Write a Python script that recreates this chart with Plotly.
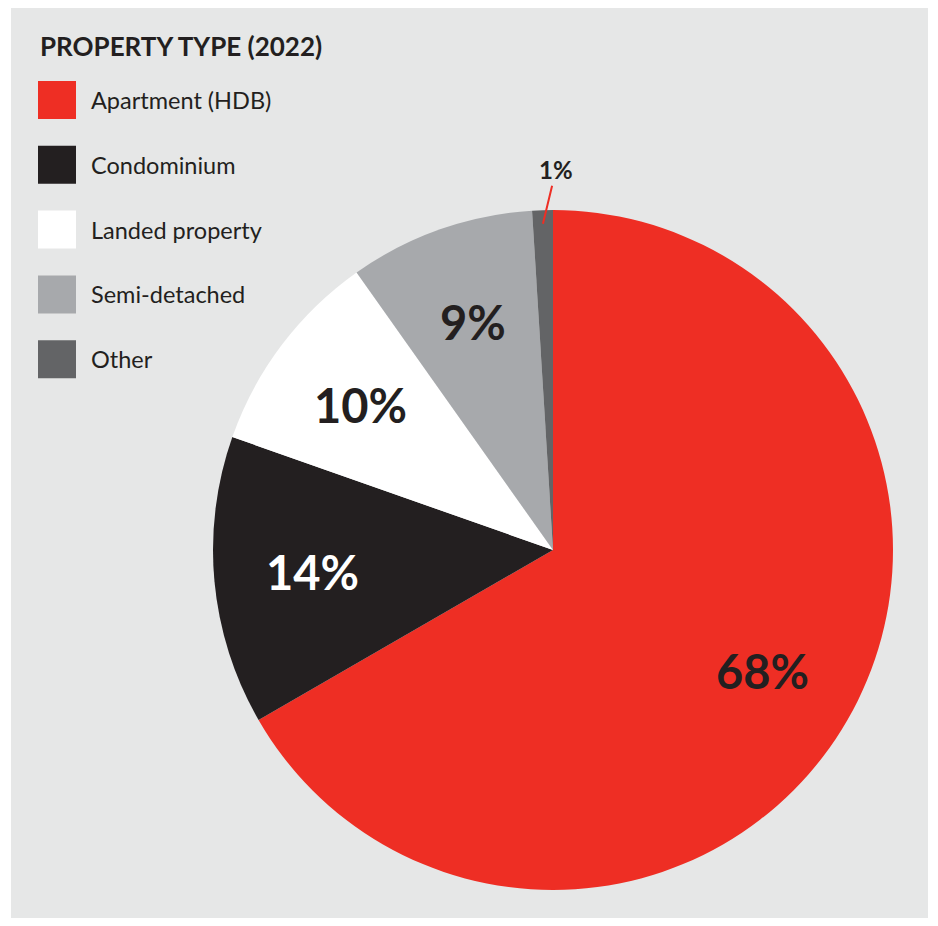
import math
import plotly.graph_objects as go

# data
categories = ["Apartment (HDB)", "Condominium", "Landed property", "Semi-detached", "Other"]
shares = [68, 14, 10, 9, 1]
slice_colors = ["#ee2e24", "#231f20", "#ffffff", "#a7a9ac", "#636466"]
label_colors = ["#231f20", "#ffffff", "#231f20", "#231f20", "#231f20"]
chart_title = "PROPERTY TYPE (2022)"

# page body has an 8px margin, so the figure is a bit smaller than the window
OFF = 8
W, H = 938 - OFF, 926 - OFF
FONT = "Lato, 'Open Sans', sans-serif"
INK = "#231f20"

# pie placement in window pixels (center / radius)
cx, cy, R = 553, 550, 340


def px_x(x):
    return (x - OFF) / W


def px_y(y):
    return 1 - (y - OFF) / H


fig = go.Figure()

fig.add_trace(go.Pie(
    labels=categories, values=shares, sort=False,
    direction="clockwise", rotation=0,
    marker=dict(colors=slice_colors, line=dict(width=0)),
    textinfo="none",
    domain=dict(x=[px_x(cx - R), px_x(cx + R)], y=[px_y(cy + R), px_y(cy - R)]),
    showlegend=False, hoverinfo="label+percent",
))

shapes = [dict(type="rect", xref="paper", yref="paper",
               x0=px_x(11), x1=px_x(928), y0=px_y(918), y1=px_y(7),
               fillcolor="#e6e7e7", line=dict(width=0), layer="below")]
annotations = [dict(text="<b>" + chart_title + "</b>", xref="paper", yref="paper",
                    x=px_x(38), y=px_y(46), xanchor="left", yanchor="middle",
                    showarrow=False, font=dict(size=26, color=INK, family=FONT, weight=900))]

# legend built from shapes + text
for i, (name, col) in enumerate(zip(categories, slice_colors)):
    top = 81 + 64.8 * i
    shapes.append(dict(type="rect", xref="paper", yref="paper",
                       x0=px_x(38), x1=px_x(76), y0=px_y(top + 38), y1=px_y(top),
                       fillcolor=col, line=dict(width=0)))
    annotations.append(dict(text=name, xref="paper", yref="paper",
                            x=px_x(89), y=px_y(top + 19), xanchor="left", yanchor="middle",
                            showarrow=False, font=dict(size=23.5, color=INK, family=FONT)))

# percentage labels placed at each slice's middle angle
total = sum(shares)
cum = 0
for i, v in enumerate(shares):
    mid = (cum + v / 2) / total * 2 * math.pi
    cum += v
    if i < len(shares) - 1:
        rr = 0.71 * R
        annotations.append(dict(text="<b>%d%%</b>" % v, xref="paper", yref="paper",
                                x=px_x(cx + rr * math.sin(mid)), y=px_y(cy - rr * math.cos(mid)),
                                xanchor="center", yanchor="middle", showarrow=False,
                                font=dict(size=47, color=label_colors[i], family=FONT, weight=900)))
    else:
        # small slice: label outside with a leader line
        rr = 0.96 * R
        annotations.append(dict(text="<b>%d%%</b>" % v, xref="paper", yref="paper",
                                x=px_x(cx + rr * math.sin(mid)), y=px_y(cy - rr * math.cos(mid)),
                                ax=13, ay=-54,
                                showarrow=True, arrowhead=0, arrowwidth=2, arrowcolor="#ee2e24",
                                font=dict(size=24, color=INK, family=FONT, weight=900)))

fig.update_layout(
    width=W, height=H, margin=dict(l=0, r=0, t=0, b=0),
    paper_bgcolor="#ffffff", plot_bgcolor="#ffffff",
    shapes=shapes, annotations=annotations,
    font=dict(family=FONT, color=INK),
)

fig.write_html("out.html")
